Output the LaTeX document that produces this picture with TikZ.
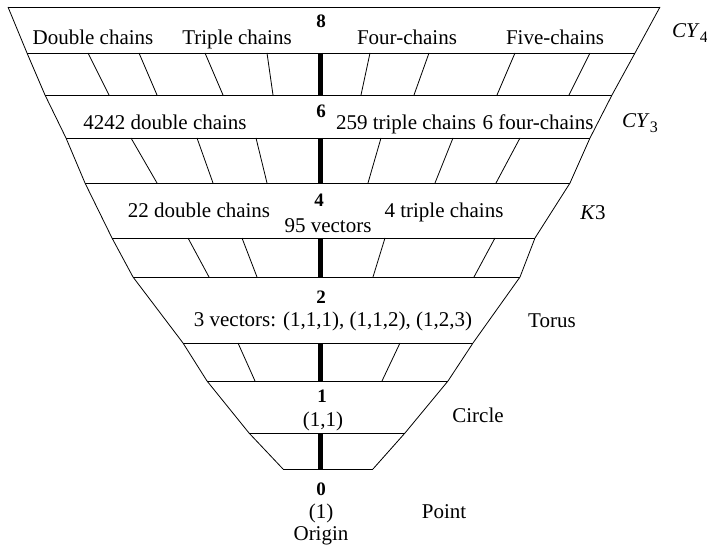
\documentclass[tikz,border=0pt]{standalone}
\usepackage{fontspec}
\setmainfont{Liberation Serif}
\usetikzlibrary{positioning}

\begin{document}
\begin{tikzpicture}[x=1pt,y=-1pt]
	\tikzset{lbl/.style={font=\fontsize{21}{24}\selectfont,inner sep=0pt,anchor=base},
		num/.style={font=\fontsize{19}{22}\selectfont\bfseries,inner sep=0pt,anchor=base},
		rung/.style={line width=0.8pt},
		spine/.style={line width=4.5pt}}
	\useasboundingbox (0,0) rectangle (707,548);
	% funnel outline
	\draw[rung] (8,7) -- (27,53) -- (45,95) -- (66,138) -- (85,183) -- (112,238)
		-- (133,277) -- (183,343) -- (207,381) -- (249,433) -- (283,469);
	\draw[rung] (660,7) -- (635,53) -- (612,95) -- (590,138) -- (570,183) -- (535,238)
		-- (520,277) -- (473,343) -- (448,381) -- (405,433) -- (373,469);
	% levels
	\draw[rung]
		(8,7) -- (660,7)
		(27,53) -- (635,53)
		(45,95) -- (612,95)
		(66,138) -- (590,138)
		(85,183) -- (570,183)
		(112,238) -- (535,238)
		(133,277) -- (520,277)
		(183,343) -- (473,343)
		(207,381) -- (448,381)
		(249,433) -- (405,433)
		(283,469) -- (373,469);
	% slanted strokes
	\draw[rung]
		(88,53) -- (109,95)
		(139,53) -- (157,95)
		(205,53) -- (223,95)
		(267,53) -- (273,95)
		(370,53) -- (361,95)
		(429,53) -- (414,95)
		(515,53) -- (497,95)
		(590,53) -- (569,95)
		(131,138) -- (157,183)
		(197,138) -- (213,183)
		(256,138) -- (267,183)
		(381,138) -- (368,183)
		(453,138) -- (435,183)
		(520,138) -- (496,183)
		(188,238) -- (209,277)
		(242,238) -- (257,277)
		(385,238) -- (373,277)
		(495,238) -- (474,277)
		(238,343) -- (255,381)
		(400,343) -- (382,381);
	% spine
	\draw[spine]
		(320.5,53) -- (320.5,95)
		(320.5,138) -- (320.5,183)
		(320.5,238) -- (320.5,277)
		(320.5,343) -- (320.5,381)
		(320.5,433) -- (320.5,469);
	% dimension 8
	\node[num] (d8) at (321,28) {8};
	\node[lbl] (dbl8) at (93,45) {Double chains};
	\node[lbl] (tri8) at (237,45) {Triple chains};
	\node[lbl] (four8) at (407,45) {Four-chains};
	\node[lbl] (five8) at (555,45) {Five-chains};
	\node[lbl] (cy4) at (690,38) {\textit{CY}\raisebox{-5pt}{\fontsize{16}{16}\selectfont 4}};
	% dimension 6
	\node[num] (d6) at (321,118) {6};
	\node[lbl] (dbl6) at (165,130) {4242 double chains};
	\node[lbl] (tri6) at (406,130) {259 triple chains};
	\node[lbl] (four6) at (538,130) {6 four-chains};
	\node[lbl] (cy3) at (640,128) {\textit{CY}\raisebox{-5pt}{\fontsize{16}{16}\selectfont 3}};
	% dimension 4
	\node[num] (d4) at (319,207) {4};
	\node[lbl] (dbl4) at (199,218) {22 double chains};
	\node[lbl] (tri4) at (444,218) {4 triple chains};
	\node[lbl] (vec4) at (328,233) {95 vectors};
	\node[lbl] (k3) at (593,220) {\textit{K}3};
	% dimension 2
	\node[num] (d2) at (321,303) {2};
	\node[lbl] (vec2) at (333,326) {3 vectors: (1,1,1), (1,1,2), (1,2,3)};
	\node[lbl] (torus) at (552,327) {Torus};
	% dimension 1
	\node[num] (d1) at (322,402) {1};
	\node[lbl] (vec1) at (323,426) {(1,1)};
	\node[lbl] (circle) at (478,422) {Circle};
	% dimension 0
	\node[num] (d0) at (321,495) {0};
	\node[lbl] (vec0) at (321,518) {(1)};
	\node[lbl] (origin) at (321,540) {Origin};
	\node[lbl] (point) at (444,518) {Point};
\end{tikzpicture}
\end{document}
